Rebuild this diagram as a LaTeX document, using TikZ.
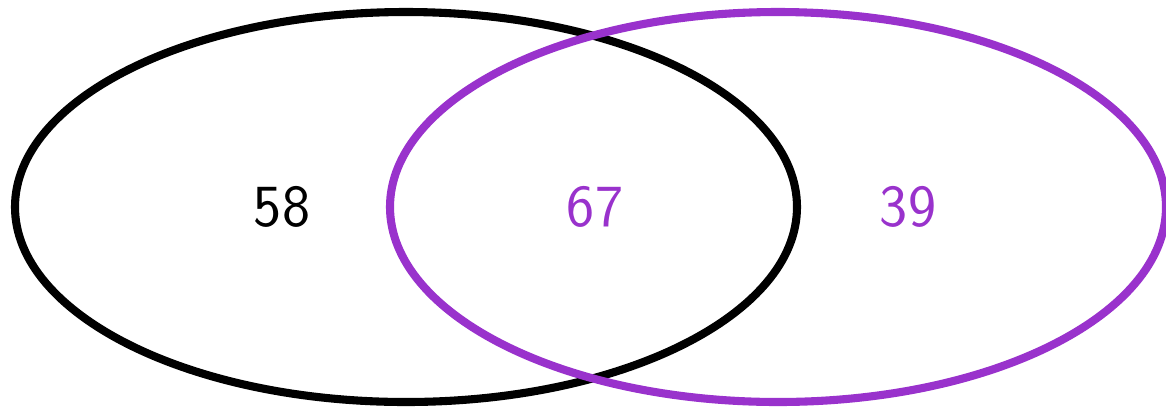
\documentclass[tikz,border=0pt]{standalone}
\usepackage{tikz}
\usepackage{xcolor}
\usetikzlibrary{shapes.geometric, positioning}
\definecolor{orchid}{HTML}{9932CC}

\begin{document}
\begin{tikzpicture}[
      every node/.style={font=\fontsize{17}{20}\selectfont\sffamily},
      set/.style={draw, ellipse, line width=2.3pt, inner sep=0pt,
        minimum height=3.9cm},
      count/.style={inner sep=0pt}
    ]
      \useasboundingbox (0,0) rectangle (11.66,4.06);
      \node[set, minimum width=7.82cm] (setA) at (4.06,1.99) {};
      \node[set, draw=orchid, minimum width=7.76cm] (setB) at (7.78,1.99) {};
      \node[count] (onlyA) at (2.82,1.99) {58};
      \node[count, text=orchid] (both) at (5.95,1.99) {67};
      \node[count, text=orchid] (onlyB) at (9.08,1.99) {39};
  \end{tikzpicture}
\end{document}
